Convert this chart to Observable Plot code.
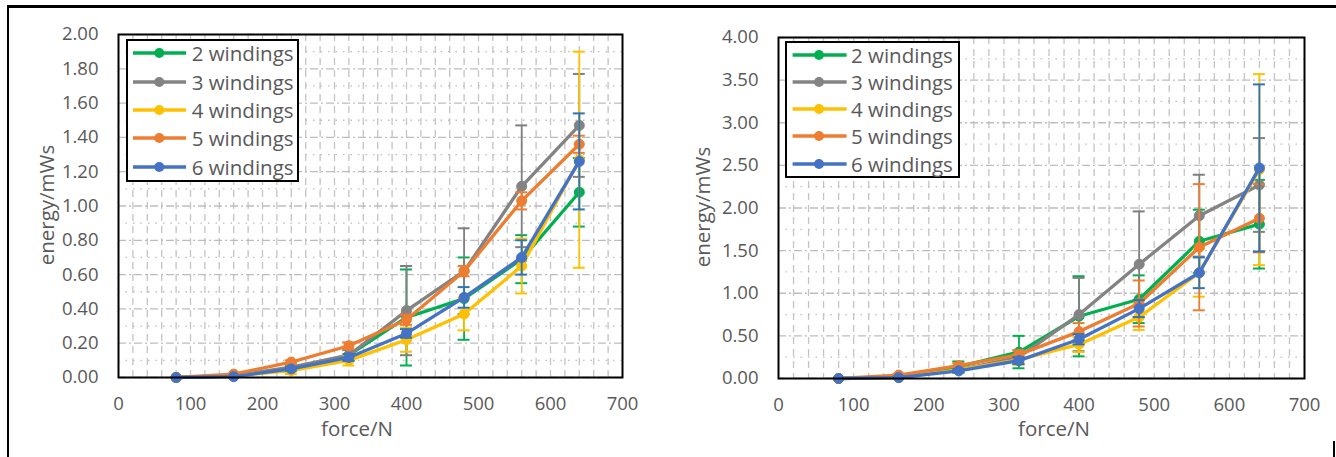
<!DOCTYPE html>
<html>
<head>
<meta charset="utf-8">
<script src="https://cdn.jsdelivr.net/npm/d3@7"></script>
<script src="https://cdn.jsdelivr.net/npm/@observablehq/plot@0.6"></script>
<style>
  html, body { margin: 0; padding: 0; background: #fff; }
  #wrap { position: relative; width: 1336px; height: 457px; overflow: hidden; font-family: "Open Sans", sans-serif; color: #595959; }
  .chart { position: absolute; top: 0; }
  .legend { position: absolute; box-sizing: border-box; border: 2px solid #000; background: #fff; }
  .row { position: absolute; left: 0; height: 24px; }
  .row svg { position: absolute; left: 0; top: 0; }
  .row span { position: absolute; white-space: nowrap; font-size: 20.5px; line-height: 24px; top: 0; }
  .atitle { position: absolute; font-size: 20.5px; line-height: 1; white-space: nowrap; transform: translate(-50%, -50%); }
  .ytitle { transform: translate(-50%, -50%) rotate(-90deg); }
  .line { position: absolute; background: #000; }
</style>
</head>
<body>
<div id="wrap"></div>
<script>
// ---------- data ----------
const forces = [80, 160, 240, 320, 400, 480, 560, 640];
const seriesNames = ["2 windings", "3 windings", "4 windings", "5 windings", "6 windings"];
const lineColors = ["#00B050", "#838383", "#FFC000", "#ED7D31", "#4472C4"];
const errColors = ["#00B050", "#7F7F7F", "#FFC000", "#ED7D31", "#2E75B6"];
const xTicks = [0, 100, 200, 300, 400, 500, 600, 700];
const leftYTicks = [0, 0.2, 0.4, 0.6, 0.8, 1.0, 1.2, 1.4, 1.6, 1.8, 2.0];
const rightYTicks = [0, 0.5, 1.0, 1.5, 2.0, 2.5, 3.0, 3.5, 4.0];

// left chart: mean energy per series
const left2 = [0, 0.01, 0.05, 0.13, 0.35, 0.46, 0.69, 1.08];
const left3 = [0, 0.01, 0.06, 0.13, 0.39, 0.62, 1.115, 1.47];
const left4 = [0, 0.01, 0.04, 0.10, 0.22, 0.37, 0.65, 1.27];
const left5 = [0, 0.02, 0.09, 0.185, 0.337, 0.62, 1.03, 1.36];
const left6 = [0, 0.005, 0.05, 0.117, 0.257, 0.467, 0.70, 1.26];
// left chart: error (±)
const leftErr2 = [0, 0, 0.01, 0.03, 0.28, 0.24, 0.14, 0.20];
const leftErr3 = [0, 0, 0.01, 0.03, 0.26, 0.25, 0.355, 0.30];
const leftErr4 = [0, 0, 0.02, 0.03, 0.07, 0.095, 0.16, 0.63];
const leftErr5 = [0, 0, 0.01, 0.02, 0.03, 0.03, 0.05, 0.05];
const leftErr6 = [0, 0, 0.01, 0.02, 0.025, 0.06, 0.10, 0.28];

// right chart: mean energy per series
const right2 = [0, 0.02, 0.14, 0.31, 0.73, 0.93, 1.61, 1.81];
const right3 = [0, 0.02, 0.10, 0.25, 0.75, 1.34, 1.91, 2.27];
const right4 = [0, 0.01, 0.10, 0.22, 0.40, 0.72, 1.24, 2.45];
const right5 = [0, 0.04, 0.15, 0.28, 0.55, 0.88, 1.54, 1.88];
const right6 = [0, 0.01, 0.09, 0.21, 0.46, 0.82, 1.24, 2.47];
// right chart: error (±)
const rightErr2 = [0, 0.01, 0.06, 0.19, 0.47, 0.28, 0.37, 0.52];
const rightErr3 = [0, 0.01, 0.03, 0.08, 0.43, 0.62, 0.48, 0.55];
const rightErr4 = [0, 0.01, 0.03, 0.06, 0.09, 0.15, 0.28, 1.12];
const rightErr5 = [0, 0.01, 0.03, 0.05, 0.10, 0.27, 0.74, 0.40];
const rightErr6 = [0, 0.01, 0.02, 0.04, 0.06, 0.10, 0.18, 0.98];

// ---------- helpers ----------
function buildRows(valuesList, errList) {
  const rows = [];
  valuesList.forEach((vals, s) => {
    vals.forEach((v, i) => rows.push({ series: seriesNames[s], si: s, force: forces[i], v, e: errList[s][i] }));
  });
  return rows;
}

function makeChart(cfg) {
  const rows = buildRows(cfg.values, cfg.errs);
  const yMax = cfg.yTicks[cfg.yTicks.length - 1];
  const step = cfg.yTicks[1] - cfg.yTicks[0];
  const vGrid = d3.range(20, 700, 20);
  const minorY = cfg.yTicks.slice(0, -1).map(t => t + step / 2);
  const marks = [
    Plot.ruleX(vGrid, { stroke: "#c4c4c4", strokeDasharray: "7,5", strokeWidth: 1.3 }),
    Plot.ruleY(minorY, { stroke: "#bdbdbd", strokeDasharray: "1.5,6", strokeWidth: 1.3 }),
    Plot.ruleY(cfg.yTicks, { stroke: "#bdbdbd", strokeDasharray: "8,3,2,3", strokeWidth: 1.3 }),
    Plot.axisX({ ticks: xTicks, tickSize: 0, tickPadding: 19, tickFormat: d => String(d), label: null }),
    Plot.axisY({ ticks: cfg.yTicks, tickSize: 0, tickPadding: 20, tickFormat: d3.format(".2f"), label: null })
  ];
  seriesNames.forEach((name, s) => {
    const data = rows.filter(r => r.si === s);
    const ed = data.filter(r => r.e > 0);
    marks.push(
      Plot.line(data, { x: "force", y: "v", stroke: lineColors[s], strokeWidth: 3.3 }),
      Plot.ruleX(ed, { x: "force", y1: d => d.v - d.e, y2: d => d.v + d.e, stroke: errColors[s], strokeWidth: 1.8 }),
      Plot.ruleY(ed, { y: d => d.v + d.e, x1: d => d.force - cfg.cap, x2: d => d.force + cfg.cap, stroke: errColors[s], strokeWidth: 2 }),
      Plot.ruleY(ed, { y: d => d.v - d.e, x1: d => d.force - cfg.cap, x2: d => d.force + cfg.cap, stroke: errColors[s], strokeWidth: 2 }),
      Plot.dot(data, { x: "force", y: "v", r: 5, fill: lineColors[s], stroke: lineColors[s], strokeWidth: 1 })
    );
  });
  marks.push(Plot.frame({ stroke: "#000", strokeWidth: 2 }));
  return Plot.plot({
    width: cfg.width, height: 457,
    marginLeft: cfg.ml, marginRight: cfg.mr, marginTop: cfg.mt, marginBottom: cfg.mb,
    style: { fontFamily: "'Open Sans', sans-serif", fontSize: "18.5px", color: "#595959", background: "transparent", overflow: "visible" },
    x: { domain: [0, 700] },
    y: { domain: [0, yMax] },
    marks
  });
}

function makeLegend(parent, box) {
  const lg = document.createElement("div");
  lg.className = "legend";
  Object.assign(lg.style, { left: box.left + "px", top: box.top + "px", width: box.w + "px", height: box.h + "px" });
  seriesNames.forEach((name, s) => {
    const row = document.createElement("div");
    row.className = "row";
    row.style.top = (box.first + s * box.gap - 12 - 2) + "px";
    row.style.width = "100%";
    const svg = d3.create("svg").attr("width", box.textX).attr("height", 24);
    svg.append("line").attr("x1", box.lx1 - 2).attr("x2", box.lx2 - 2).attr("y1", 12).attr("y2", 12)
      .attr("stroke", lineColors[s]).attr("stroke-width", 3.3);
    svg.append("circle").attr("cx", box.mx - 2).attr("cy", 12).attr("r", 5).attr("fill", lineColors[s]);
    row.appendChild(svg.node());
    const sp = document.createElement("span");
    sp.textContent = name;
    sp.style.left = (box.textX - 2) + "px";
    row.appendChild(sp);
    lg.appendChild(row);
  });
  parent.appendChild(lg);
}

function addText(parent, text, x, y, cls) {
  const d = document.createElement("div");
  d.className = "atitle" + (cls ? " " + cls : "");
  d.textContent = text;
  d.style.left = x + "px";
  d.style.top = y + "px";
  parent.appendChild(d);
}

// ---------- build ----------
const wrap = document.getElementById("wrap");

const leftSvg = makeChart({
  width: 668, ml: 118, mr: 46, mt: 34, mb: 80, cap: 8.3,
  yTicks: leftYTicks,
  values: [left2, left3, left4, left5, left6],
  errs: [leftErr2, leftErr3, leftErr4, leftErr5, leftErr6]
});
leftSvg.classList.add("chart");
leftSvg.style.left = "0px";
wrap.appendChild(leftSvg);

const rightSvg = makeChart({
  width: 668, ml: 110, mr: 32, mt: 37, mb: 79, cap: 8,
  yTicks: rightYTicks,
  values: [right2, right3, right4, right5, right6],
  errs: [rightErr2, rightErr3, rightErr4, rightErr5, rightErr6]
});
rightSvg.classList.add("chart");
rightSvg.style.left = "668px";
wrap.appendChild(rightSvg);

makeLegend(wrap, { left: 126, top: 39, w: 173, h: 143, first: 14.3, gap: 28.35, lx1: 7, lx2: 60, mx: 33.3, textX: 65.7 });
makeLegend(wrap, { left: 785, top: 41, w: 175, h: 137, first: 13.6, gap: 27.25, lx1: 7.6, lx2: 61.6, mx: 34, textX: 66 });

addText(wrap, "energy/mWs", 46, 205, "ytitle");
addText(wrap, "energy/mWs", 702, 207, "ytitle");
addText(wrap, "force/N", 357, 428);
addText(wrap, "force/N", 1054, 428);

// outer border fragments
const lines = [
  { left: 7, top: 5, width: 1329, height: 2.5 },
  { left: 6.5, top: 5, width: 2.5, height: 452 },
  { left: 1333, top: 441, width: 2, height: 16 }
];
lines.forEach(l => {
  const d = document.createElement("div");
  d.className = "line";
  Object.assign(d.style, { left: l.left + "px", top: l.top + "px", width: l.width + "px", height: l.height + "px" });
  wrap.appendChild(d);
});
</script>
</body>
</html>
